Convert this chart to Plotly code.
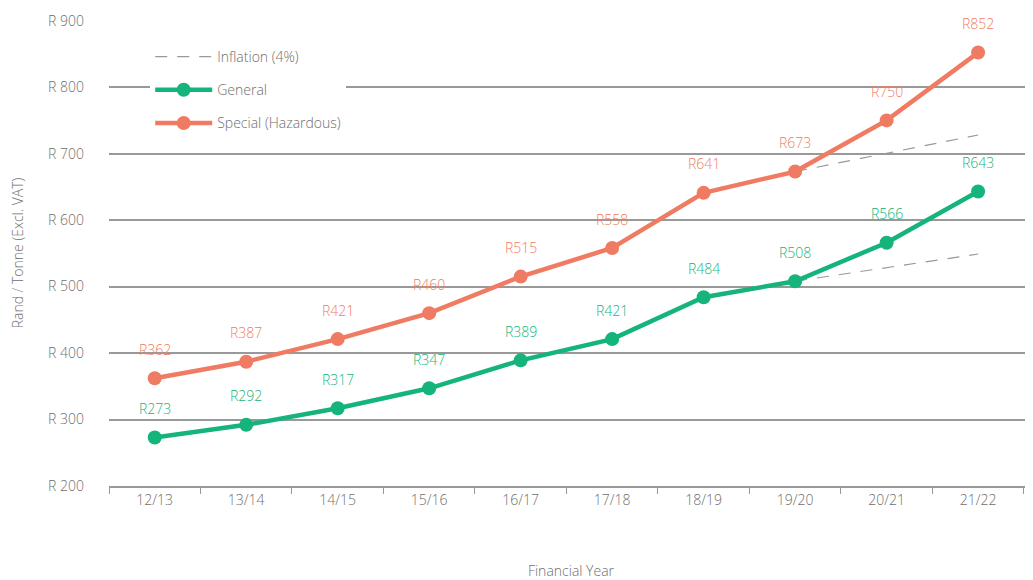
import plotly.graph_objects as go

years = ["12/13", "13/14", "14/15", "15/16", "16/17", "17/18", "18/19", "19/20", "20/21", "21/22"]
general = [273, 292, 317, 347, 389, 421, 484, 508, 566, 643]
special = [362, 387, 421, 460, 515, 558, 641, 673, 750, 852]
infl_years = ["19/20", "20/21", "21/22"]
infl_general = [508, 528, 549]
infl_special = [673, 700, 728]
y_ticks = [200, 300, 400, 500, 600, 700, 800, 900]

GREEN = "#14b47b"
ORANGE = "#ef7c62"
GREY = "#999999"
TEXT = "#6e6e6e"
FONT = dict(family="Open Sans, sans-serif", size=14, color=TEXT, weight=300)
DASH = "12px,10px"

fig = go.Figure()

fig.add_trace(go.Scatter(x=infl_years, y=infl_special, mode="lines", name="Inflation (4%)",
                         line=dict(color=GREY, width=1.2, dash=DASH), legendgroup="a"))
fig.add_trace(go.Scatter(x=infl_years, y=infl_general, mode="lines", showlegend=False,
                         line=dict(color=GREY, width=1.2, dash=DASH), legendgroup="a"))
fig.add_trace(go.Scatter(x=years, y=general, mode="lines+markers", name="General",
                         line=dict(color=GREEN, width=4.5), marker=dict(size=14, color=GREEN),
                         legendgroup="b"))
fig.add_trace(go.Scatter(x=years, y=special, mode="lines+markers", name="Special (Hazardous)",
                         line=dict(color=ORANGE, width=4.5), marker=dict(size=14, color=ORANGE),
                         legendgroup="c"))

for xs, ys, col in [(years, general, GREEN), (years, special, ORANGE)]:
    for x, y in zip(xs, ys):
        fig.add_annotation(x=x, y=y, text=f"R{y}", showarrow=False, yshift=29,
                           font=dict(FONT, color=col))

# the page body adds an 8px offset, so the figure is 8px smaller than the window
fig.update_layout(
    width=1025, height=572,
    margin=dict(l=101, r=0, t=12, b=94),
    plot_bgcolor="white", paper_bgcolor="white",
    font=FONT,
    showlegend=True,
    legend=dict(x=0.0446, y=0.955, xanchor="left", yanchor="top", bgcolor="white",
                font=FONT, tracegroupgap=12, itemwidth=57),
    xaxis=dict(type="category", categoryorder="array", categoryarray=years,
               range=[-0.5, 9.6], tickson="boundaries", ticks="outside", ticklen=6,
               tickcolor=GREY, showline=True, linecolor=GREY, linewidth=1.5,
               showgrid=False, automargin=False, tickfont=FONT,
               title=dict(text="Financial Year", standoff=63, font=FONT)),
    yaxis=dict(range=[200, 901], tickvals=y_ticks, ticktext=[f"R {v}" for v in y_ticks],
               showgrid=True, gridcolor=GREY, gridwidth=1.5, zeroline=False,
               automargin=False, ticklabelstandoff=24, tickfont=FONT,
               title=dict(text="Rand / Tonne (Excl. VAT)", standoff=26, font=FONT)),
)

fig.write_html("out.html")
